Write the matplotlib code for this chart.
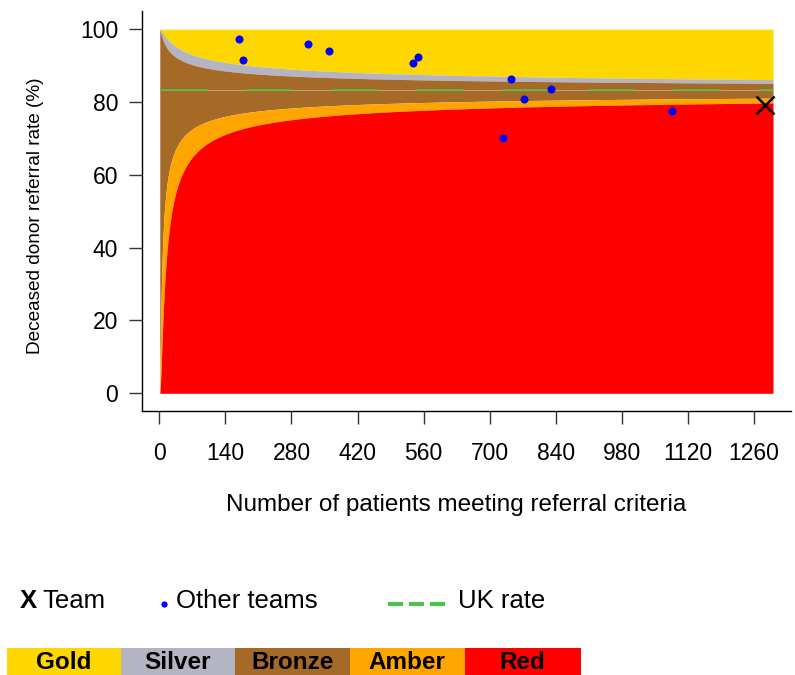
import numpy as np
import matplotlib
matplotlib.use('Agg')
import matplotlib.pyplot as plt
from matplotlib.patches import Rectangle

plt.rcParams['font.family'] = ['Liberation Sans', 'DejaVu Sans']

# Данные
uk_rate = 83.2          # UK rate, %
n_max = 1300            # правый край воронки
other_n = [169, 177, 314, 359, 537, 549, 744, 773, 727, 830, 1085]
other_rate = [97.3, 91.6, 95.9, 94.0, 90.8, 92.4, 86.3, 80.7, 70.1, 83.5, 77.6]
team_n = 1283
team_rate = 79.2
x_ticks = list(range(0, 1261, 140))
y_ticks = list(range(0, 101, 20))
band_names = ['Gold', 'Silver', 'Bronze', 'Amber', 'Red']
band_colors = ['#FFD700', '#B4B4C2', '#A56A28', '#FFA500', '#FF0000']
z95, z998 = 1.96, 3.09


def funnel_limits(n, p, z):
    """Контрольные пределы воронки на логит-шкале."""
    lp = np.log(p / (1 - p))
    se = np.sqrt(1.0 / (n * p * (1 - p)))
    lo = 1 / (1 + np.exp(-(lp - z * se)))
    hi = 1 / (1 + np.exp(-(lp + z * se)))
    return lo * 100, hi * 100


W, H = 795, 675
fig = plt.figure(figsize=(W / 100, H / 100), dpi=100)
ax = fig.add_axes([141.7 / W, 1 - 411 / H, 649 / W, 400 / H])

n = np.arange(1, n_max + 1)
p0 = uk_rate / 100
lo95, hi95 = funnel_limits(n, p0, z95)
lo998, hi998 = funnel_limits(n, p0, z998)

ax.fill_between(n, hi998, 100, color=band_colors[0], lw=0)
ax.fill_between(n, hi95, hi998, color=band_colors[1], lw=0)
ax.fill_between(n, lo95, hi95, color=band_colors[2], lw=0)
ax.fill_between(n, lo998, lo95, color=band_colors[3], lw=0)
ax.fill_between(n, 0, lo998, color=band_colors[4], lw=0)

ax.plot([n[0], n[-1]], [uk_rate, uk_rate], color='#C9A27A', lw=0.7)
ax.plot([n[0], n[-1]], [uk_rate, uk_rate], color='#4CC44C', lw=1.1,
        dashes=(31, 25))

ax.plot(other_n, other_rate, 'o', color='#0000FF', ms=5.8, mec='none')
ax.plot([team_n], [team_rate], 'x', color='black', ms=12.5, mew=1.8)

ax.set_xlim(-37.3, 1337.4)
ax.set_ylim(-4.86, 105.0)
ax.set_xticks(x_ticks)
ax.set_yticks(y_ticks)
for s in ['top', 'right']:
    ax.spines[s].set_visible(False)
for s in ['left', 'bottom']:
    ax.spines[s].set_linewidth(1.0)
ax.tick_params(axis='both', length=9.4, width=1.0, color='#333333',
               labelsize=16.5)
ax.tick_params(axis='y', pad=7.5)
ax.tick_params(axis='x', pad=13)

fig.text(456 / W, 1 - 511 / H, 'Number of patients meeting referral criteria',
         ha='center', va='baseline', fontsize=17.5)
fig.text(36 / W, 1 - 216 / H, 'Deceased donor referral rate (%)',
         ha='center', va='center', rotation=90, fontsize=13.7)

# Легенда и цветная шкала в пикселях
lg = fig.add_axes([0, 0, 1, 1])
lg.set_xlim(0, W)
lg.set_ylim(H, 0)
lg.axis('off')

lg.text(20, 608, 'X', fontsize=18.5, fontweight='bold', va='baseline')
lg.text(42, 608, 'Team', fontsize=18.5, va='baseline')
lg.plot([163.5], [604], 'o', color='#0000FF', ms=4.5, mec='none')
lg.text(176, 608, 'Other teams', fontsize=18.5, va='baseline')
lg.plot([388, 445], [604, 604], color='#4CC44C', lw=3, dashes=(3.6, 1.44))
lg.text(458, 608, 'UK rate', fontsize=18.5, va='baseline')

edges = [7, 121, 235, 350, 464.6, 580.8]
for i, name in enumerate(band_names):
    lg.add_patch(Rectangle((edges[i], 648.3), edges[i + 1] - edges[i], 40,
                           color=band_colors[i], lw=0))
    lg.text((edges[i] + edges[i + 1]) / 2, 669, name, fontsize=17.5,
            fontweight='bold', ha='center', va='baseline')

fig.savefig('out.png', dpi=100)
